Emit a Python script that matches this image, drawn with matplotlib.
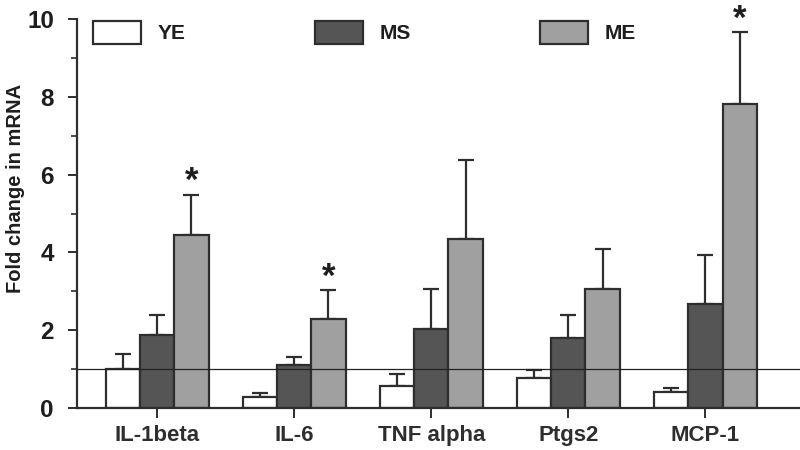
import matplotlib
matplotlib.use("Agg")
import matplotlib.pyplot as plt
import numpy as np
from matplotlib.patches import Patch

plt.rcParams['font.family'] = ['Liberation Sans', 'DejaVu Sans']
plt.rcParams['font.weight'] = 'bold'

categories = ['IL-1beta', 'IL-6', 'TNF alpha', 'Ptgs2', 'MCP-1']
groups = ['YE', 'MS', 'ME']
ye_vals = [1.00, 0.29, 0.575, 0.765, 0.40]
ye_err = [0.39, 0.10, 0.31, 0.22, 0.11]
ms_vals = [1.87, 1.11, 2.04, 1.80, 2.68]
ms_err = [0.53, 0.19, 1.03, 0.59, 1.26]
me_vals = [4.46, 2.30, 4.35, 3.06, 7.83]
me_err = [1.03, 0.74, 2.04, 1.03, 1.84]
significant = [True, True, False, False, True]  # star over ME bar
yticks = [0, 2, 4, 6, 8, 10]

colors = ['#ffffff', '#555555', '#a0a0a0']
edge = '#2e2e2e'

fig = plt.figure(figsize=(8, 4.5), dpi=100)
ax = fig.add_axes([0.096, 0.0933, 0.904, 0.864])

x = np.arange(len(categories))
w = 0.25
series = [(ye_vals, ye_err), (ms_vals, ms_err), (me_vals, me_err)]
handles = []
for i, (vals, errs) in enumerate(series):
    xs = x + (i - 1) * w
    ax.bar(xs, vals, width=w, color=colors[i], edgecolor=edge, linewidth=1.6, zorder=2)
    ax.errorbar(xs, vals, yerr=[np.zeros(len(vals)), errs], fmt='none',
                ecolor=edge, elinewidth=1.6, capsize=6, capthick=1.6, zorder=1)
    handles.append(Patch(facecolor=colors[i], edgecolor=edge, linewidth=1.6, label=groups[i]))

for j, s in enumerate(significant):
    if s:
        ax.text(x[j] + w, me_vals[j] + me_err[j] + 0.33, '*', ha='center', va='center',
                fontsize=25, fontweight='bold', color='#1e1e1e', clip_on=False)

ax.axhline(1, color='#222222', linewidth=0.9, zorder=3)

ax.set_xlim(-0.586, 4.69)
ax.set_ylim(0, 10)
ax.set_yticks(yticks)
ax.set_yticks([1, 3, 5, 7, 9], minor=True)
ax.set_xticks(x)
ax.set_xticklabels(categories, fontsize=16, fontweight='bold', color='#1e1e1e')
ax.tick_params(axis='y', which='major', length=6.5, width=1.4, pad=10, labelsize=17.5,
               colors='#2e2e2e', labelcolor='#1e1e1e')
ax.tick_params(axis='y', which='minor', length=4, width=1.2, colors='#2e2e2e')
ax.tick_params(axis='x', which='major', length=7, width=1.4, pad=5, colors='#2e2e2e')
for sp in ['top', 'right']:
    ax.spines[sp].set_visible(False)
for sp in ['left', 'bottom']:
    ax.spines[sp].set_linewidth(1.6)
    ax.spines[sp].set_color('#2e2e2e')

ax.set_ylabel('Fold change in mRNA', fontsize=14.5, fontweight='bold', color='#1e1e1e')
ax.yaxis.set_label_coords(-0.071, 0.566)

leg = ax.legend(handles=handles, ncol=3, loc='upper left', bbox_to_anchor=(0.023, 0.995),
                frameon=False, fontsize=15, handlelength=2.3, handleheight=1.3,
                handletextpad=0.8, columnspacing=6.2, borderaxespad=0, borderpad=0)
for t in leg.get_texts():
    t.set_color('#1e1e1e')

fig.savefig('out.png', dpi=100)
